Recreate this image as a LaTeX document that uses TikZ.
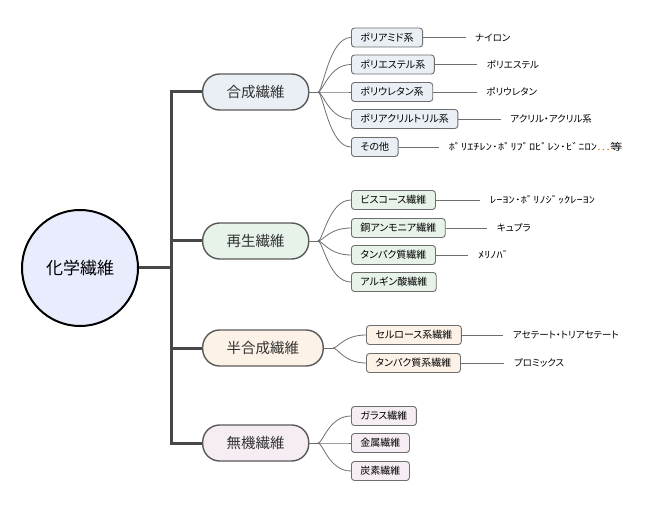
\documentclass[tikz,border=0pt]{standalone}
\usepackage{fontspec}
\setmainfont{Noto Sans CJK JP}[RawFeature=+palt]
\newfontfamily\hankaku{Noto Sans CJK JP}[FakeStretch=1.3, RawFeature=+palt]
\usetikzlibrary{positioning}

\definecolor{hubfill}{HTML}{E8ECFD}
\definecolor{synfill}{HTML}{E9EFF5}
\definecolor{regfill}{HTML}{E7F2E9}
\definecolor{semfill}{HTML}{FDF2E7}
\definecolor{inofill}{HTML}{F5EDF3}
\definecolor{trunkgray}{HTML}{474747}
\definecolor{twiggray}{HTML}{6E6E6E}

\tikzset{
  hub/.style={circle, draw=black, line width=2pt, fill=hubfill, minimum size=116pt,
    inner sep=0pt, font=\fontsize{17}{20}\selectfont},
  pill/.style={draw=trunkgray!90, line width=1.4pt, rounded corners=17pt, anchor=west,
    minimum height=36pt, inner xsep=24pt, text=black!80, font=\fontsize{14.5}{17}\selectfont},
  leafbox/.style={draw=twiggray, line width=0.9pt, rounded corners=3pt, anchor=west,
    minimum height=19pt, inner xsep=9pt, inner ysep=0pt, font=\fontsize{10}{12}\selectfont},
  note/.style={anchor=west, inner sep=0pt, font=\fontsize{9.5}{11}\selectfont},
  trunk/.style={draw=trunkgray, line width=3pt},
  twig/.style={draw=twiggray, line width=0.8pt},
}

\begin{document}
\begin{tikzpicture}[x=1pt, y=-1pt]
\useasboundingbox (0,0) rectangle (665,508);

\node[hub] (hub) at (80,268) {化学繊維};
\coordinate (fork) at (171,268);

\node[pill, fill=synfill] (syn) at (202,92) {合成繊維};
\node[pill, fill=regfill] (reg) at (202,241) {再生繊維};
\node[pill, fill=semfill] (sem) at (202,348) {半合成繊維};
\node[pill, fill=inofill] (ino) at (202,443) {無機繊維};

\draw[trunk] (hub.east) -- (fork);
\foreach \p in {syn,reg,sem,ino}
  \draw[trunk] (fork) |- (\p.west);

% 合成繊維
\coordinate (jsyn) at (318,92);
\node[leafbox, fill=synfill] (pa) at (351,37.5) {ポリアミド系};
\node[leafbox, fill=synfill] (pe) at (351,64.5) {ポリエステル系};
\node[leafbox, fill=synfill] (pu) at (351,92) {ポリウレタン系};
\node[leafbox, fill=synfill] (pan) at (351,119) {ポリアクリルトリル系};
\node[leafbox, fill=synfill] (oth) at (351,147) {その他};
\node[note, right=52pt of pa] (npa) {ナイロン};
\node[note, right=52pt of pe] (npe) {ポリエステル};
\node[note, right=53pt of pu] (npu) {ポリウレタン};
\node[note, right=52pt of pan] (npan) {アクリル・アクリル系};
\node[note, right=50pt of oth] (noth) {\hankaku ﾎﾟﾘｴﾁﾚﾝ･ﾎﾟﾘﾌﾟﾛﾋﾟﾚﾝ･ﾋﾞﾆﾛﾝ{\color{orange!85!black}…}等};
\draw[twig] (syn.east) -- (jsyn);
\foreach \c in {pa,pe,pu,pan,oth}
  \draw[twig] (jsyn) .. controls +(5,0) and +(-22,0) .. (\c.west);
\foreach \c/\n in {pa/npa,pe/npe,pu/npu,pan/npan,oth/noth}
  \draw[twig, shorten >=9.5pt] (\c.east) -- (\n.west);

% 再生繊維
\coordinate (jreg) at (318,241);
\node[leafbox, fill=regfill] (vis) at (351,200) {ビスコース繊維};
\node[leafbox, fill=regfill] (cu) at (351,228) {銅アンモニア繊維};
\node[leafbox, fill=regfill] (prot) at (351,255) {タンパク質繊維};
\node[leafbox, fill=regfill] (alg) at (351,282) {アルギン酸繊維};
\node[note, right=54pt of vis] (nvis) {\hankaku ﾚｰﾖﾝ･ﾎﾟﾘﾉｼﾞｯｸﾚｰﾖﾝ};
\node[note, right=51pt of cu] (ncu) {キュプラ};
\node[note, right=42pt of prot] (nprot) {\hankaku ﾒﾘﾉﾊﾞ};
\draw[twig] (reg.east) -- (jreg);
\foreach \c in {vis,cu,prot,alg}
  \draw[twig] (jreg) .. controls +(5,0) and +(-22,0) .. (\c.west);
\foreach \c/\n in {vis/nvis,cu/ncu,prot/nprot}
  \draw[twig, shorten >=9.5pt] (\c.east) -- (\n.west);

% 半合成繊維
\coordinate (jsem) at (333,348);
\node[leafbox, fill=semfill] (cel) at (366,335) {セルロース系繊維};
\node[leafbox, fill=semfill] (pro) at (366,363) {タンパク質系繊維};
\node[note, right=51pt of cel] (ncel) {アセテート・トリアセテート};
\node[note, right=53pt of pro] (npro) {プロミックス};
\draw[twig] (sem.east) -- (jsem);
\foreach \c in {cel,pro}
  \draw[twig] (jsem) .. controls +(5,0) and +(-22,0) .. (\c.west);
\foreach \c/\n in {cel/ncel,pro/npro}
  \draw[twig, shorten >=9.5pt] (\c.east) -- (\n.west);

% 無機繊維
\coordinate (jino) at (318,443);
\node[leafbox, fill=inofill] (gl) at (351,416) {ガラス繊維};
\node[leafbox, fill=inofill] (me) at (351,443) {金属繊維};
\node[leafbox, fill=inofill] (ca) at (351,471) {炭素繊維};
\draw[twig] (ino.east) -- (jino);
\foreach \c in {gl,me,ca}
  \draw[twig] (jino) .. controls +(5,0) and +(-22,0) .. (\c.west);
\end{tikzpicture}
\end{document}
